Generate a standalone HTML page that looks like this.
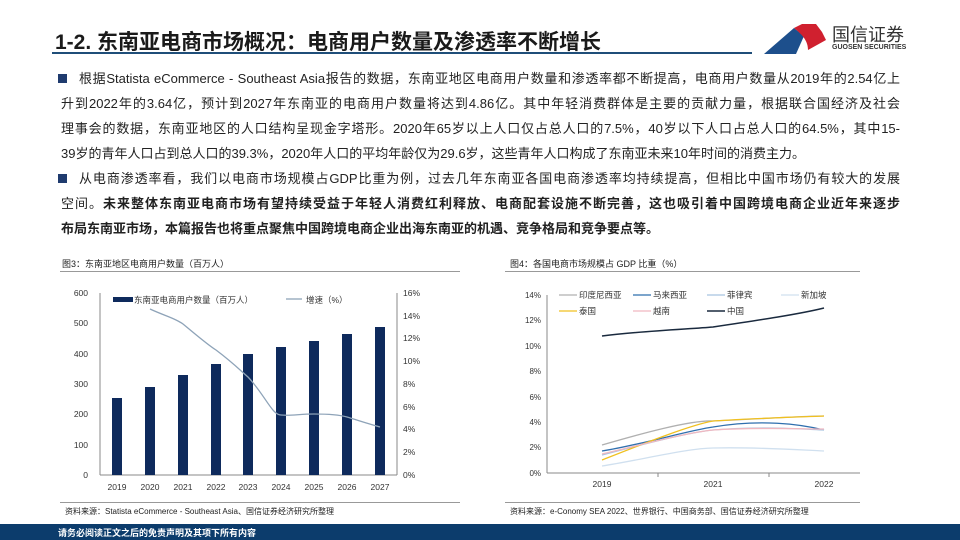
<!DOCTYPE html>
<html><head><meta charset="utf-8"><style>
body{margin:0;width:960px;height:540px;background:#fff;position:relative;overflow:hidden;font-family:"Liberation Sans","Noto Sans CJK SC",sans-serif;color:#222}
.t{position:absolute;white-space:nowrap}
.ln{position:absolute;left:61px;width:839px;font-size:13px;line-height:16px;text-align:justify;text-align-last:justify;white-space:nowrap;color:#222}
.b{font-weight:bold}
</style></head><body>
<div class="t" style="left:55px;top:26px;font-size:21px;font-weight:bold;color:#1a1a1a">1-2. 东南亚电商市场概况：电商用户数量及渗透率不断增长</div>
<div style="position:absolute;left:52px;top:52px;width:700px;height:2px;background:#1f4e79"></div>
<svg style="position:absolute;left:760px;top:14px" width="80" height="45"><path d="M4 40 L34 14 L44 22 L36 40 Z" fill="#1d4f8c"/><path d="M34 14 L42 10 L56 10 L62 18 L66 26 L48 36 C48 28,44 22,34 14 Z" fill="#d0202f"/></svg>
<div class="t" style="left:832px;top:21px;font-size:18px;color:#333">国信证券</div>
<div class="t" style="left:832px;top:44px;font-size:7px;color:#333;font-weight:bold">GUOSEN SECURITIES</div>
<div style="position:absolute;left:58px;top:74px;width:9px;height:9px;background:#1f3b6e"></div>
<div class="ln" style="top:71px;left:79px;width:821px">根据Statista eCommerce - Southeast Asia报告的数据，东南亚地区电商用户数量和渗透率都不断提高，电商用户数量从2019年的2.54亿上</div>
<div class="ln" style="top:96px">升到2022年的3.64亿，预计到2027年东南亚的电商用户数量将达到4.86亿。其中年轻消费群体是主要的贡献力量，根据联合国经济及社会</div>
<div class="ln" style="top:121px">理事会的数据，东南亚地区的人口结构呈现金字塔形。2020年65岁以上人口仅占总人口的7.5%，40岁以下人口占总人口的64.5%，其中15-</div>
<div class="ln" style="top:146px;width:auto;text-align-last:auto">39岁的青年人口占到总人口的39.3%，2020年人口的平均年龄仅为29.6岁，这些青年人口构成了东南亚未来10年时间的消费主力。</div>
<div style="position:absolute;left:58px;top:174px;width:9px;height:9px;background:#1f3b6e"></div>
<div class="ln" style="top:171px;left:79px;width:821px">从电商渗透率看，我们以电商市场规模占GDP比重为例，过去几年东南亚各国电商渗透率均持续提高，但相比中国市场仍有较大的发展</div>
<div class="ln" style="top:196px">空间。<span class="b">未来整体东南亚电商市场有望持续受益于年轻人消费红利释放、电商配套设施不断完善，这也吸引着中国跨境电商企业近年来逐步</span></div>
<div class="ln b" style="top:221px;width:auto;text-align-last:auto">布局东南亚市场，本篇报告也将重点聚焦中国跨境电商企业出海东南亚的机遇、竞争格局和竞争要点等。</div>

<div class="t" style="left:62px;top:257px;font-size:9px">图3：东南亚地区电商用户数量（百万人）</div>
<div style="position:absolute;left:60px;top:271px;width:400px;height:1px;background:#999"></div>
<div style="position:absolute;left:60px;top:502px;width:400px;height:1px;background:#999"></div>
<div class="t" style="left:65px;top:506px;font-size:8px">资料来源：Statista eCommerce - Southeast Asia、国信证券经济研究所整理</div>

<div class="t" style="left:510px;top:257px;font-size:9px">图4：各国电商市场规模占 GDP 比重（%）</div>
<div style="position:absolute;left:505px;top:271px;width:355px;height:1px;background:#999"></div>
<div style="position:absolute;left:505px;top:502px;width:355px;height:1px;background:#999"></div>
<div class="t" style="left:510px;top:506px;font-size:8px">资料来源：e-Conomy SEA 2022、世界银行、中国商务部、国信证券经济研究所整理</div>

<svg style="position:absolute;left:0;top:0" width="960" height="540" font-family="Liberation Sans, Noto Sans CJK SC, sans-serif" font-size="8.5" fill="#333">
<line x1="100" y1="293" x2="100" y2="475" stroke="#888"/>
<line x1="397" y1="293" x2="397" y2="475" stroke="#888"/>
<line x1="100" y1="475" x2="397" y2="475" stroke="#888"/>
<g text-anchor="end">
<text x="88" y="296">600</text><text x="88" y="326">500</text><text x="88" y="357">400</text><text x="88" y="387">300</text><text x="88" y="417">200</text><text x="88" y="448">100</text><text x="88" y="478">0</text>
</g>
<g>
<text x="403" y="296">16%</text><text x="403" y="319">14%</text><text x="403" y="341">12%</text><text x="403" y="364">10%</text><text x="403" y="387">8%</text><text x="403" y="410">6%</text><text x="403" y="432">4%</text><text x="403" y="455">2%</text><text x="403" y="478">0%</text>
</g>
<g fill="#0e2a5c">
<rect x="112" y="398" width="10" height="77"/>
<rect x="145" y="387" width="10" height="88"/>
<rect x="178" y="375" width="10" height="100"/>
<rect x="211" y="364" width="10" height="111"/>
<rect x="243" y="354" width="10" height="121"/>
<rect x="276" y="347" width="10" height="128"/>
<rect x="309" y="341" width="10" height="134"/>
<rect x="342" y="334" width="10" height="141"/>
<rect x="375" y="327" width="10" height="148"/>
</g>
<path d="M150 309 C165 316,175 318,183 324 C200 338,208 345,216 350 C232 362,240 370,248 377 C265 395,272 415,281 415 C290 416,300 414,314 414 C330 414,340 415,347 417 C360 421,372 425,380 427" fill="none" stroke="#8ea3b8" stroke-width="1.3"/>
<g text-anchor="middle">
<text x="117" y="490">2019</text><text x="150" y="490">2020</text><text x="183" y="490">2021</text><text x="216" y="490">2022</text><text x="248" y="490">2023</text><text x="281" y="490">2024</text><text x="314" y="490">2025</text><text x="347" y="490">2026</text><text x="380" y="490">2027</text>
</g>
<rect x="113" y="297" width="20" height="5" fill="#0e2a5c"/>
<text x="134" y="303">东南亚电商用户数量（百万人）</text>
<line x1="286" y1="299" x2="302" y2="299" stroke="#8ea3b8" stroke-width="1.3"/>
<text x="306" y="303">增速（%）</text>

<line x1="547" y1="295" x2="547" y2="473" stroke="#888"/>
<line x1="547" y1="473" x2="860" y2="473" stroke="#888"/>
<line x1="658" y1="473" x2="658" y2="477" stroke="#888"/>
<line x1="769" y1="473" x2="769" y2="477" stroke="#888"/>
<g text-anchor="end" font-size="8">
<text x="541" y="298">14%</text><text x="541" y="323">12%</text><text x="541" y="349">10%</text><text x="541" y="374">8%</text><text x="541" y="400">6%</text><text x="541" y="425">4%</text><text x="541" y="450">2%</text><text x="541" y="476">0%</text>
</g>
<g text-anchor="middle"><text x="602" y="487">2019</text><text x="713" y="487">2021</text><text x="824" y="487">2022</text></g>
<g fill="none" stroke-width="1.3">
<path d="M602 445 C640 434,690 420,713 421 C760 419,800 416,824 416" stroke="#b0b0b0"/>
<path d="M602 451 C640 445,690 430,713 427 C760 419,800 424,824 430" stroke="#2f6fae"/>
<path d="M602 455 C640 445,690 432,713 430 C760 426,800 429,824 430" stroke="#a8c4e0"/>
<path d="M602 466 C640 460,690 448,713 448 C760 447,800 450,824 451" stroke="#d0e0ef"/>
<path d="M602 460 C640 445,690 425,713 421 C760 418,800 417,824 416" stroke="#f0c020"/>
<path d="M602 454 C640 445,690 432,713 430 C760 427,800 429,824 429" stroke="#f0b8c0"/>
<path d="M602 336 C640 331,690 329,713 327 C760 320,800 314,824 308" stroke="#1a2a3e" stroke-width="1.5"/>
</g>
<g font-size="8.5">
<line x1="559" y1="295" x2="577" y2="295" stroke="#b0b0b0" stroke-width="1.3"/><text x="579" y="298">印度尼西亚</text>
<line x1="633" y1="295" x2="651" y2="295" stroke="#2f6fae" stroke-width="1.3"/><text x="653" y="298">马来西亚</text>
<line x1="707" y1="295" x2="725" y2="295" stroke="#a8c4e0" stroke-width="1.3"/><text x="727" y="298">菲律宾</text>
<line x1="781" y1="295" x2="799" y2="295" stroke="#d0e0ef" stroke-width="1.3"/><text x="801" y="298">新加坡</text>
<line x1="559" y1="311" x2="577" y2="311" stroke="#f0c020" stroke-width="1.3"/><text x="579" y="314">泰国</text>
<line x1="633" y1="311" x2="651" y2="311" stroke="#f0b8c0" stroke-width="1.3"/><text x="653" y="314">越南</text>
<line x1="707" y1="311" x2="725" y2="311" stroke="#1a2a3e" stroke-width="1.5"/><text x="727" y="314">中国</text>
</g>
</svg>
<div style="position:absolute;left:0;top:524px;width:960px;height:16px;background:#0c3c6c"></div>
<div class="t" style="left:58px;top:526px;font-size:9px;color:#fff;font-weight:bold">请务必阅读正文之后的免责声明及其项下所有内容</div>
</body></html>
